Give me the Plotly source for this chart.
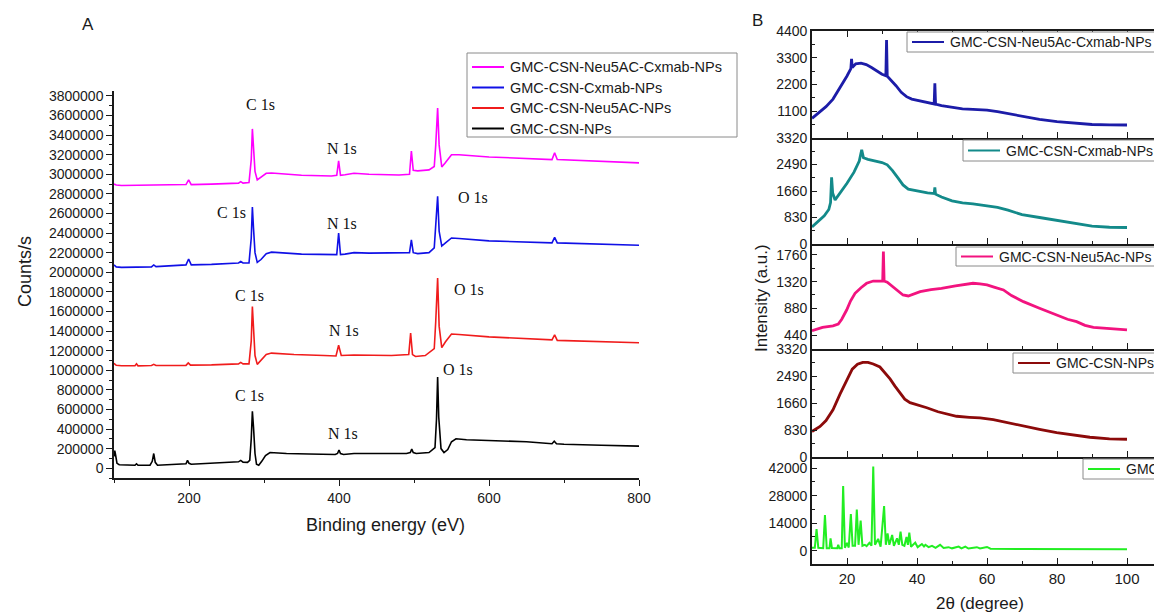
import plotly.graph_objects as go

W, H = 1154, 613
FONT = "Liberation Sans, Arial, sans-serif"
SERIF = "Liberation Serif, Times New Roman, serif"
INK = "#1a1a1a"

# ---------------- XPS survey spectra (binding energy eV, counts/s) ----------------
xps_np_ev = [100, 101, 102, 104, 107, 120, 128, 130, 132, 148, 151, 153, 155, 158, 190, 196, 198, 200,
             203, 230, 260, 266, 269, 272, 278, 281, 283, 284.5, 286, 288, 290, 293, 297, 302, 308, 330,
             360, 395, 398, 400, 402, 406, 420, 460, 490, 495, 497, 499, 503, 520, 526, 528, 530, 531.5,
             533, 536, 540, 545, 550, 556, 570, 600, 650, 684, 687, 690, 700, 750, 800]
xps_np_counts = [120000, 180000, 140000, 50000, 35000, 30000, 30000, 45000, 30000, 30000, 70000, 150000,
                 60000, 30000, 40000, 45000, 80000, 50000, 40000, 50000, 60000, 65000, 80000, 62000, 60000,
                 80000, 300000, 580000, 420000, 150000, 40000, 30000, 70000, 130000, 160000, 150000, 145000,
                 140000, 150000, 185000, 150000, 140000, 150000, 150000, 150000, 160000, 195000, 160000,
                 150000, 160000, 200000, 210000, 500000, 930000, 520000, 200000, 160000, 190000, 270000,
                 300000, 290000, 285000, 270000, 250000, 275000, 250000, 245000, 235000, 225000]

xps_neu_ev = [100, 103, 110, 128, 130, 132, 150, 153, 156, 196, 199, 202, 230, 266, 269, 272, 280, 283,
              284.5, 286, 288, 291, 296, 303, 310, 340, 380, 396, 399.5, 403, 420, 470, 493, 495.5, 498,
              502, 515, 527, 529, 531.5, 533.5, 537, 542, 550, 560, 600, 684, 687.5, 691, 750, 800]
xps_neu_counts = [1070000, 1050000, 1045000, 1045000, 1065000, 1045000, 1048000, 1060000, 1048000,
                  1050000, 1075000, 1052000, 1055000, 1065000, 1080000, 1065000, 1065000, 1300000,
                  1650000, 1450000, 1150000, 1060000, 1100000, 1160000, 1175000, 1160000, 1150000,
                  1145000, 1255000, 1150000, 1155000, 1150000, 1160000, 1380000, 1160000, 1140000,
                  1150000, 1220000, 1500000, 1940000, 1450000, 1230000, 1290000, 1370000, 1365000,
                  1340000, 1310000, 1360000, 1305000, 1295000, 1280000]

xps_cx_ev = [100, 103, 110, 150, 153, 156, 196, 199.5, 203, 230, 266, 269, 272, 280, 283, 284.5, 286, 288,
             291, 296, 303, 310, 350, 390, 397, 399.5, 402, 408, 420, 440, 480, 494, 496.5, 499, 505, 520,
             527, 529, 531.5, 533.5, 537, 542, 550, 560, 600, 684, 687.5, 691, 750, 800]
xps_cx_counts = [2075000, 2055000, 2050000, 2055000, 2075000, 2058000, 2075000, 2135000, 2075000, 2080000,
                 2095000, 2110000, 2095000, 2095000, 2350000, 2666000, 2450000, 2200000, 2100000, 2130000,
                 2190000, 2205000, 2185000, 2175000, 2180000, 2400000, 2180000, 2185000, 2200000, 2195000,
                 2195000, 2200000, 2330000, 2200000, 2190000, 2200000, 2250000, 2450000, 2775000, 2420000,
                 2268000, 2300000, 2350000, 2345000, 2320000, 2300000, 2355000, 2300000, 2290000, 2275000]

xps_dual_ev = [100, 103, 110, 150, 196, 199.5, 203, 230, 266, 269, 272, 280, 283, 284.5, 286, 288, 291, 296,
               303, 310, 350, 390, 397, 399.5, 402, 408, 420, 440, 480, 494, 496.5, 499, 505, 520, 527, 529,
               531.5, 533.5, 537, 542, 550, 560, 600, 684, 687.5, 691, 750, 800]
xps_dual_counts = [2900000, 2890000, 2885000, 2890000, 2895000, 2942000, 2895000, 2900000, 2910000,
                   2925000, 2910000, 2915000, 3150000, 3463000, 3250000, 3030000, 2942000, 2970000,
                   3010000, 3013000, 2990000, 2983000, 2990000, 3136000, 2990000, 2995000, 3010000,
                   3000000, 2993000, 3000000, 3238000, 3040000, 3035000, 3045000, 3080000, 3300000,
                   3677000, 3300000, 3075000, 3120000, 3200000, 3200000, 3177000, 3150000, 3220000,
                   3150000, 3135000, 3116000]

xps_names = ["GMC-CSN-Neu5AC-Cxmab-NPs", "GMC-CSN-Cxmab-NPs", "GMC-CSN-Neu5AC-NPs", "GMC-CSN-NPs"]
xps_colors = ["#ff00ff", "#1010e6", "#f01c1c", "#000000"]

# peak labels: (text, binding energy, counts) for each spectrum
peak_labels = [
    ("C 1s", 295, 3710000), ("N 1s", 404, 3268000), ("O 1s", 540, 3891000),
    ("C 1s", 257, 2605000), ("N 1s", 404, 2502000), ("O 1s", 579, 2758000),
    ("C 1s", 281, 1767000), ("N 1s", 407, 1409000), ("O 1s", 573, 1828000),
    ("C 1s", 280, 745000), ("N 1s", 405, 357000), ("O 1s", 559, 1011000),
]

# ---------------- XRD patterns (2-theta degree, intensity a.u.) ----------------
xrd_dual_2t = [10, 12, 14, 16, 18, 20, 21.1, 21.3, 21.5, 22.5, 24, 25.5, 27, 28.5, 30, 31.1, 31.3, 31.5,
               32.5, 34, 35.5, 37, 38.5, 40, 42, 44, 44.9, 45.1, 45.3, 47, 50, 53, 56, 60, 63, 66, 70, 75,
               80, 85, 90, 95, 100]
xrd_dual_i = [810, 1050, 1290, 1600, 2050, 2550, 2850, 3250, 2900, 3050, 3080, 3020, 2900, 2750, 2620, 2560,
              4030, 2540, 2400, 2150, 1880, 1700, 1600, 1560, 1500, 1430, 1400, 2250, 1390, 1330, 1250,
              1200, 1180, 1150, 1080, 1000, 880, 770, 670, 600, 555, 540, 535]

xrd_cx_2t = [10, 12, 13.5, 14.8, 15.3, 15.6, 15.9, 16.6, 18, 20, 22, 23.5, 24.2, 24.7, 26, 28, 30, 31.5, 33,
             34.5, 36, 37.5, 40, 43, 44.9, 45.1, 45.3, 47, 50, 53, 56, 60, 63, 66, 70, 75, 80, 85, 90, 95,
             100]
xrd_cx_i = [536, 720, 880, 1080, 1300, 2086, 1600, 1380, 1580, 1900, 2250, 2600, 2950, 2700, 2650, 2600,
            2550, 2480, 2300, 2080, 1850, 1720, 1660, 1600, 1580, 1776, 1560, 1470, 1350, 1290, 1260, 1200,
            1150, 1060, 920, 830, 744, 650, 560, 525, 517]

xrd_neu_2t = [10, 13, 16, 17.5, 18.5, 19.9, 21, 22.3, 24, 25.6, 27.5, 29.4, 30.2, 30.4, 30.6, 31.5, 33,
              34.5, 36, 37.5, 39, 40.9, 44, 47, 51, 54, 56, 58, 60, 62, 64.7, 67, 70.4, 75, 79.9, 83, 85.6,
              88, 90.4, 95, 100]
xrd_neu_i = [511, 567, 590, 620, 700, 852, 1000, 1128, 1220, 1293, 1330, 1336, 1330, 1815, 1330, 1310,
             1240, 1160, 1100, 1084, 1110, 1155, 1190, 1210, 1250, 1280, 1293, 1285, 1265, 1230, 1183,
             1090, 990, 880, 770, 700, 660, 600, 567, 540, 523]

xrd_np_2t = [10, 12.3, 14, 16, 18, 20, 21.5, 23, 24.5, 26, 27.5, 29.4, 31, 32.3, 33.7, 35.1, 36.5, 38, 40,
             42.8, 46, 49, 51.3, 55, 58, 61.8, 65, 70.4, 75, 79.9, 85, 89.4, 95, 100]
xrd_np_i = [783, 939, 1120, 1450, 1931, 2400, 2700, 2850, 2910, 2910, 2860, 2767, 2580, 2400, 2180, 1983,
            1780, 1671, 1610, 1515, 1390, 1300, 1252, 1220, 1200, 1148, 1070, 939, 850, 751, 670, 607,
            560, 545]

xrd_gmc_2t = [10, 10.8, 11.3, 11.8, 13.2, 13.7, 14.2, 15.0, 15.3, 15.7, 17.2, 17.5, 17.8, 18.5, 18.9, 19.4,
              20.0, 20.5, 21.1, 21.6, 22.3, 22.8, 23.3, 23.9, 24.4, 25.1, 25.6, 26.4, 27.0, 27.5, 28.0,
              28.9, 29.6, 30.6, 31.1, 31.6, 32.1, 32.9, 33.4, 34.3, 34.8, 35.3, 35.8, 36.4, 37.0, 37.4,
              37.8, 38.3, 39.5, 40.2, 41.4, 42.0, 42.4, 43.3, 44.3, 45.3, 46.6, 47.6, 49.0, 50.0, 51.9,
              52.7, 53.8, 54.7, 57.1, 58.0, 60.0, 61.0, 70, 80, 90, 100]
xrd_gmc_i = [1500, 1500, 11000, 1500, 1300, 18200, 1300, 1300, 6300, 1300, 1200, 3000, 1300, 1300, 32900,
             1500, 4000, 1600, 18700, 2500, 2500, 21000, 3000, 15300, 2500, 3000, 2300, 4000, 2500, 42800,
             3000, 6000, 2000, 22700, 3000, 8800, 3000, 8000, 2500, 6300, 3000, 9700, 3000, 2500, 7000,
             3000, 9200, 2000, 4100, 1800, 3400, 2200, 3000, 1800, 2500, 1500, 3000, 1400, 1800, 1200,
             2100, 1200, 2100, 1100, 1800, 1100, 1900, 1000, 900, 850, 800, 800]

xrd_series = [
    ("GMC-CSN-Neu5Ac-Cxmab-NPs", xrd_dual_2t, xrd_dual_i, "#1c1ca8"),
    ("GMC-CSN-Cxmab-NPs", xrd_cx_2t, xrd_cx_i, "#138a8a"),
    ("GMC-CSN-Neu5Ac-NPs", xrd_neu_2t, xrd_neu_i, "#f2137f"),
    ("GMC-CSN-NPs", xrd_np_2t, xrd_np_i, "#8c0a0a"),
    ("GMC", xrd_gmc_2t, xrd_gmc_i, "#22ee22"),
]

# y ranges, tick positions and minor steps for the stacked XRD panels
xrd_yranges = [[0, 4400], [0, 3320], [209, 1941], [0, 3320], [-6770, 47700]]
xrd_yticks = [[1100, 2200, 3300, 4400], [0, 830, 1660, 2490, 3320], [440, 880, 1320, 1760],
              [0, 830, 1660, 2490, 3320], [0, 14000, 28000, 42000]]
xrd_minor = [550, 415, 220, 415, 7000]


def px_x(px):
    return px / W


def px_y(py):
    return 1 - py / H


fig = go.Figure()

# ---- panel A: XPS survey ----
for name, ev, counts, color in zip(
        xps_names,
        [xps_dual_ev, xps_cx_ev, xps_neu_ev, xps_np_ev],
        [xps_dual_counts, xps_cx_counts, xps_neu_counts, xps_np_counts],
        xps_colors):
    fig.add_trace(go.Scatter(x=ev, y=counts, mode="lines", name=name,
                             line=dict(color=color, width=1.6),
                             xaxis="x", yaxis="y", showlegend=False))

# ---- panel B: stacked XRD patterns ----
panel_edges = [31, 138, 244, 349, 457, 564]
for i, (name, tt, ii, color) in enumerate(xrd_series):
    k = i + 2
    fig.add_trace(go.Scatter(x=tt, y=ii, mode="lines", name=name,
                             line=dict(color=color, width=2.8 if i < 4 else 2.0),
                             xaxis=f"x{k}", yaxis=f"y{k}", showlegend=False))

layout = dict(
    width=W, height=H,
    margin=dict(l=0, r=0, t=0, b=0, autoexpand=False),
    paper_bgcolor="white", plot_bgcolor="white",
    font=dict(family=FONT, color=INK),
    xaxis=dict(domain=[px_x(114), px_x(639)], range=[100, 800], tick0=0, dtick=200,
               ticks="outside", ticklen=6, tickwidth=1.3, tickcolor=INK,
               showline=True, linecolor=INK, linewidth=1.5, showgrid=False, zeroline=False,
               tickfont=dict(size=14, color=INK),
               minor=dict(dtick=100, tick0=0, ticks="outside", ticklen=3.5, tickcolor=INK, tickwidth=1.2),
               anchor="y"),
    yaxis=dict(domain=[px_y(478), px_y(91)], range=[-100000, 3850000], tick0=0, dtick=200000,
               tickformat="d", ticks="outside", ticklen=6, tickwidth=1.3, tickcolor=INK,
               showline=True, linecolor=INK, linewidth=1.5, showgrid=False, zeroline=False,
               tickfont=dict(size=14, color=INK),
               minor=dict(dtick=100000, tick0=0, ticks="outside", ticklen=3.5, tickcolor=INK, tickwidth=1.2),
               anchor="x"),
)

xrd_xmax = 10 + (W - 812) / 3.5
for i in range(5):
    k = i + 2
    top, bottom = panel_edges[i], panel_edges[i + 1]
    layout[f"xaxis{k}"] = dict(
        domain=[px_x(812), 1.0], range=[10, xrd_xmax], tick0=0, dtick=20,
        ticks="inside", ticklen=6, tickwidth=1.3, tickcolor=INK,
        showline=True, linecolor=INK, linewidth=1.6, showgrid=False, zeroline=False,
        mirror="ticks" if i == 0 else False,
        showticklabels=(i == 4), tickfont=dict(size=15, color=INK),
        minor=dict(dtick=10, tick0=0, ticks="inside", ticklen=3.5, tickcolor=INK, tickwidth=1.2),
        anchor=f"y{k}")
    layout[f"yaxis{k}"] = dict(
        domain=[px_y(bottom), px_y(top)], range=xrd_yranges[i], tickvals=xrd_yticks[i],
        tickformat="d", ticks="inside", ticklen=5, tickwidth=1.3, tickcolor=INK,
        showline=True, linecolor=INK, linewidth=1.6, showgrid=False, zeroline=False,
        tickfont=dict(size=14, color=INK),
        minor=dict(dtick=xrd_minor[i], tick0=xrd_yticks[i][0], ticks="inside", ticklen=3,
                   tickcolor=INK, tickwidth=1.2),
        anchor=f"x{k}")

fig.update_layout(**layout)


def key_entry(left, mid, color, name, size):
    fig.add_shape(type="line", xref="paper", yref="paper",
                  x0=px_x(left + 5), x1=px_x(left + 37), y0=px_y(mid), y1=px_y(mid),
                  line=dict(color=color, width=2), layer="above")
    fig.add_annotation(x=px_x(left + 41), y=px_y(mid), xref="paper", yref="paper", text=name,
                       showarrow=False, xanchor="left", yanchor="middle",
                       font=dict(family=FONT, size=size, color=INK))


# key for the XPS spectra
fig.add_shape(type="rect", xref="paper", yref="paper",
              x0=px_x(467), x1=px_x(737), y0=px_y(137), y1=px_y(53),
              line=dict(color="#8a8a8a", width=1), fillcolor="rgba(255,255,255,0)", layer="above")
for j, (name, color) in enumerate(zip(xps_names, xps_colors)):
    key_entry(467, 67 + j * 20.5, color, name, 14.5)

# compact key boxes in the upper right of each XRD panel: (left px, top px, bottom px)
key_boxes = [(907, 32, 52), (963, 140, 161), (956, 247, 266), (1013, 353, 373), (1083, 459, 479)]
for (name, _, _, color), (left, top, bottom) in zip(xrd_series, key_boxes):
    fig.add_shape(type="rect", xref="paper", yref="paper",
                  x0=px_x(left), x1=px_x(left + 300), y0=px_y(bottom), y1=px_y(top),
                  line=dict(color="#8a8a8a", width=1), fillcolor="white", layer="above")
    key_entry(left, (top + bottom) / 2, color, name, 14)

# peak labels
for text, ev, cnt in peak_labels:
    fig.add_annotation(x=ev, y=cnt, xref="x", yref="y", text=text, showarrow=False,
                       font=dict(family=SERIF, size=16, color="#111111"))

# panel letters and axis titles
texts = [
    ("A", 88, 25, 0, 17),
    ("B", 757, 20, 0, 17),
    ("Counts/s", 25, 272, -90, 18),
    ("Binding energy (eV)", 385, 525, 0, 18),
    ("Intensity (a.u.)", 761, 298, -90, 17),
    ("2θ (degree)", 980, 603, 0, 17),
]
for t, x, y, ang, size in texts:
    fig.add_annotation(x=px_x(x), y=px_y(y), xref="paper", yref="paper", text=t, showarrow=False,
                       textangle=ang, xanchor="center", yanchor="middle",
                       font=dict(family=FONT, size=size, color=INK))

fig.write_html("out.html")
